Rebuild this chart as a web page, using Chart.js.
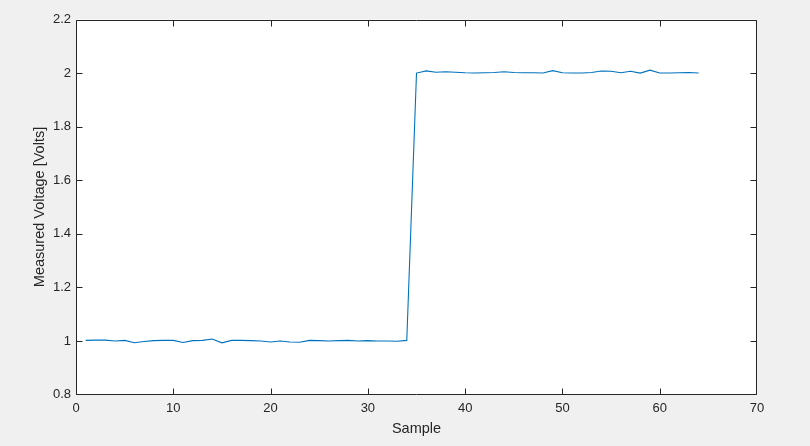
<!DOCTYPE html>
<html>
<head>
<meta charset="utf-8">
<script src="https://cdn.jsdelivr.net/npm/chart.js@4/dist/chart.umd.min.js"></script>
<style>
  html, body { margin: 0; padding: 0; background: #f0f0f0; }
  #wrap { width: 810px; height: 446px; position: relative; }
</style>
</head>
<body>
<div id="wrap"><canvas id="c" width="810" height="446"></canvas></div>
<script>
const samples = [1,2,3,4,5,6,7,8,9,10,11,12,13,14,15,16,17,18,19,20,21,22,23,24,25,26,27,28,29,30,31,32,
  33,34,35,36,37,38,39,40,41,42,43,44,45,46,47,48,49,50,51,52,53,54,55,56,57,58,59,60,61,62,63,64];
const voltage = [
  1.002, 1.003, 1.003, 1.000, 1.002, 0.993, 0.998, 1.001, 1.002, 1.002,
  0.994, 1.001, 1.002, 1.007, 0.993, 1.002, 1.002, 1.001, 1.000, 0.996,
  1.000, 0.996, 0.995, 1.002, 1.001, 1.000, 1.001, 1.002, 1.000, 1.001,
  1.000, 1.000, 0.999, 1.002,
  2.000, 2.008, 2.003, 2.005, 2.003, 2.001, 2.000, 2.001, 2.002, 2.005,
  2.002, 2.001, 2.001, 2.000, 2.009, 2.001, 2.000, 2.000, 2.002, 2.008,
  2.007, 2.001, 2.007, 2.000, 2.011, 2.000, 2.000, 2.001, 2.002, 2.000
];
const xTicks = [0, 10, 20, 30, 40, 50, 60, 70];
const yTicks = [0.8, 1.0, 1.2, 1.4, 1.6, 1.8, 2.0, 2.2];
const xLabel = 'Sample';
const yLabel = 'Measured Voltage [Volts]';

const axisColor = '#262626';
const fontFamily = '"Liberation Sans", Arial, Helvetica, sans-serif';

const matlabAxes = {
  id: 'matlabAxes',
  beforeDatasetsDraw(chart) {
    const {ctx, chartArea: a} = chart;
    ctx.save();
    ctx.fillStyle = '#ffffff';
    ctx.fillRect(a.left, a.top, a.right - a.left, a.bottom - a.top);
    ctx.restore();
  },
  afterDatasetsDraw(chart) {
    const {ctx, chartArea: a, scales: {x, y}} = chart;
    const L = Math.round(a.left) + 0.5, R = Math.round(a.right) - 0.5;
    const T = Math.round(a.top) + 0.5, B = Math.round(a.bottom) - 0.5;
    const tl = 6;
    ctx.save();
    ctx.strokeStyle = axisColor;
    ctx.lineWidth = 1;
    ctx.beginPath();
    ctx.rect(L, T, R - L, B - T);
    xTicks.forEach(v => {
      const px = Math.min(R, Math.max(L, Math.round(x.getPixelForValue(v)) + 0.5));
      ctx.moveTo(px, B); ctx.lineTo(px, B - tl);
      ctx.moveTo(px, T); ctx.lineTo(px, T + tl);
    });
    yTicks.forEach(v => {
      const py = Math.min(B, Math.max(T, Math.round(y.getPixelForValue(v)) + 0.5));
      ctx.moveTo(L, py); ctx.lineTo(L + tl, py);
      ctx.moveTo(R, py); ctx.lineTo(R - tl, py);
    });
    ctx.stroke();
    ctx.restore();
  }
};

new Chart(document.getElementById('c'), {
  type: 'line',
  data: {
    datasets: [{
      data: samples.map((s, i) => ({x: s, y: voltage[i]})),
      borderColor: '#0072BD',
      borderWidth: 1.1,
      pointRadius: 0,
      tension: 0,
      fill: false
    }]
  },
  options: {
    responsive: false,
    animation: false,
    devicePixelRatio: 1,
    layout: { padding: { left: 0, right: 53, top: 19.5, bottom: 0 } },
    plugins: { legend: { display: false }, tooltip: { enabled: false } },
    scales: {
      x: {
        type: 'linear',
        min: 0, max: 70,
        afterFit(scale) { scale.height = 51.5; },
        afterBuildTicks(scale) { scale.ticks = xTicks.map(v => ({value: v})); },
        grid: { display: false, drawTicks: false },
        border: { display: false },
        ticks: {
          color: axisColor,
          font: { family: fontFamily, size: 13 },
          padding: 6,
          maxRotation: 0,
          autoSkip: false
        },
        title: {
          display: true, text: xLabel, color: axisColor,
          font: { family: fontFamily, size: 14.5 },
          padding: { top: 0, bottom: 8 }
        }
      },
      y: {
        type: 'linear',
        min: 0.8, max: 2.2,
        afterFit(scale) { scale.width = 76; },
        afterBuildTicks(scale) { scale.ticks = yTicks.map(v => ({value: v})); },
        grid: { display: false, drawTicks: false },
        border: { display: false },
        ticks: {
          color: axisColor,
          font: { family: fontFamily, size: 13 },
          padding: 5,
          autoSkip: false,
          callback: v => String(Math.round(v * 10) / 10)
        },
        title: {
          display: true, text: yLabel, color: axisColor,
          font: { family: fontFamily, size: 14.5 },
          padding: { top: 31, bottom: 0 }
        }
      }
    }
  },
  plugins: [matlabAxes]
});
</script>
</body>
</html>
